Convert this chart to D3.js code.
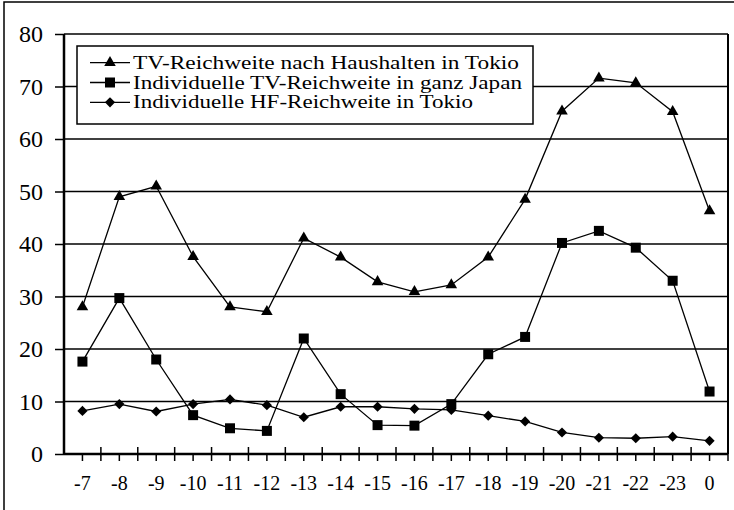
<!DOCTYPE html>
<html>
<head>
<meta charset="utf-8">
<script src="https://cdn.jsdelivr.net/npm/d3@7"></script>
<style>
  body { margin: 0; background: #fff; }
  svg { display: block; }
  text { font-family: "Liberation Serif", "Times New Roman", serif; fill: #000; }
</style>
</head>
<body>
<script>
var width = 734,
    height = 510;

var hours = ["-7", "-8", "-9", "-10", "-11", "-12", "-13", "-14", "-15", "-16",
             "-17", "-18", "-19", "-20", "-21", "-22", "-23", "0"];

var tvHaushalte = [28, 49, 51, 37.6, 28, 27.1, 41.1, 37.5, 32.8, 30.9,
                   32.2, 37.5, 48.5, 65.3, 71.6, 70.7, 65.2, 46.3];
var tvJapan = [17.6, 29.7, 18, 7.4, 4.9, 4.4, 22, 11.4, 5.5, 5.4,
               9.5, 19, 22.3, 40.2, 42.5, 39.3, 33, 11.9];
var hfTokio = [8.2, 9.5, 8.1, 9.5, 10.4, 9.3, 7, 9, 9, 8.6,
               8.4, 7.3, 6.2, 4.1, 3.1, 3, 3.3, 2.5];

var seriesNames = ["TV-Reichweite nach Haushalten in Tokio",
                   "Individuelle TV-Reichweite in ganz Japan",
                   "Individuelle HF-Reichweite in Tokio"];
var yTicks = [0, 10, 20, 30, 40, 50, 60, 70, 80];

var series = [
  { name: seriesNames[0], values: tvHaushalte, symbol: d3.symbolTriangle, size: 58, rot: 0 },
  { name: seriesNames[1], values: tvJapan, symbol: d3.symbolSquare, size: 100, rot: 0 },
  { name: seriesNames[2], values: hfTokio, symbol: d3.symbolSquare, size: 52, rot: 45 }
];

var serif = "'Liberation Serif', 'Times New Roman', serif";
var margin = { left: 64, right: 6, top: 34, bottom: 56 };

var svg = d3.select("body").append("svg")
    .attr("width", width)
    .attr("height", height);

// outer frame (only top and left visible)
svg.append("path")
    .attr("d", "M4,520 V2 H740")
    .attr("fill", "none")
    .attr("stroke", "#000")
    .attr("stroke-width", 1.5);

var x = d3.scaleBand()
    .domain(hours)
    .range([margin.left, width - margin.right]);

var y = d3.scaleLinear()
    .domain([0, 80])
    .range([height - margin.bottom, margin.top]);

// gridlines
svg.append("g")
  .selectAll("line")
  .data(yTicks.slice(1))
  .enter().append("line")
    .attr("x1", margin.left)
    .attr("x2", width - margin.right)
    .attr("y1", function(d) { return y(d); })
    .attr("y2", function(d) { return y(d); })
    .attr("stroke", "#000")
    .attr("stroke-width", 1.5);

// right border
svg.append("line")
    .attr("x1", width - margin.right).attr("x2", width - margin.right)
    .attr("y1", y(80)).attr("y2", y(0))
    .attr("stroke", "#000")
    .attr("stroke-width", 2);

// y axis
var yAxis = svg.append("g")
    .attr("transform", "translate(" + margin.left + ",0)")
    .call(d3.axisLeft(y).tickValues(yTicks).tickSize(9).tickPadding(12));
yAxis.attr("font-family", serif).attr("font-size", 24);
yAxis.select(".domain").attr("stroke-width", 2.5).attr("d", "M0," + y(0) + "V" + y(80));
yAxis.selectAll(".tick line").attr("stroke-width", 1.5);
yAxis.selectAll("text")
    .style("font-family", serif)
    .style("font-size", "24px");

// x axis: crossing ticks between categories, outer ticks at centers
var xg = svg.append("g")
    .attr("transform", "translate(0," + y(0) + ")");
xg.append("line")
    .attr("x1", margin.left).attr("x2", width - margin.right)
    .attr("stroke", "#000")
    .attr("stroke-width", 2.5);
xg.selectAll(".bound")
  .data(hours)
  .enter().append("line")
    .attr("class", "bound")
    .attr("x1", function(d) { return x(d) + x.bandwidth(); })
    .attr("x2", function(d) { return x(d) + x.bandwidth(); })
    .attr("y1", -7).attr("y2", 7)
    .attr("stroke", "#000")
    .attr("stroke-width", 1.5);
xg.selectAll(".center")
  .data(hours)
  .enter().append("line")
    .attr("class", "center")
    .attr("x1", function(d) { return x(d) + x.bandwidth() / 2; })
    .attr("x2", function(d) { return x(d) + x.bandwidth() / 2; })
    .attr("y1", 0).attr("y2", 7)
    .attr("stroke", "#000")
    .attr("stroke-width", 1.5);
xg.selectAll("text")
  .data(hours)
  .enter().append("text")
    .attr("x", function(d) { return x(d) + x.bandwidth() / 2; })
    .attr("y", 36)
    .attr("text-anchor", "middle")
    .style("font-family", serif)
    .style("font-size", "20px")
    .text(function(d) { return d; });

var line = d3.line()
    .x(function(d, i) { return x(hours[i]) + x.bandwidth() / 2; })
    .y(function(d) { return y(d); });

series.forEach(function(s) {
  svg.append("path")
      .attr("d", line(s.values))
      .attr("fill", "none")
      .attr("stroke", "#000")
      .attr("stroke-width", 1.3);
  svg.append("g")
    .selectAll("path")
    .data(s.values)
    .enter().append("path")
      .attr("transform", function(d, i) {
        return "translate(" + (x(hours[i]) + x.bandwidth() / 2) + "," + y(d) + ") rotate(" + s.rot + ")";
      })
      .attr("d", d3.symbol().type(s.symbol).size(s.size))
      .attr("fill", "#000");
});

// legend
var legend = svg.append("g").attr("transform", "translate(77,46)");
legend.append("rect")
    .attr("width", 456)
    .attr("height", 78)
    .attr("fill", "#fff")
    .attr("stroke", "#000")
    .attr("stroke-width", 1.5);
var item = legend.selectAll(".item")
  .data(series)
  .enter().append("g")
    .attr("transform", function(d, i) { return "translate(0," + (16.7 + i * 19.8) + ")"; });
item.append("line")
    .attr("x1", 13).attr("x2", 53)
    .attr("stroke", "#000")
    .attr("stroke-width", 1.3);
item.append("path")
    .attr("transform", function(d) { return "translate(33,0) rotate(" + d.rot + ")"; })
    .attr("d", function(d) { return d3.symbol().type(d.symbol).size(d.size)(); })
    .attr("fill", "#000");
item.append("text")
    .attr("x", 56)
    .attr("y", 6)
    .attr("textLength", function(d, i) { return [386, 389, 340][i]; })
    .attr("lengthAdjust", "spacingAndGlyphs")
    .style("font-family", serif)
    .style("font-size", "18px")
    .text(function(d) { return d.name; });
</script>
</body>
</html>
